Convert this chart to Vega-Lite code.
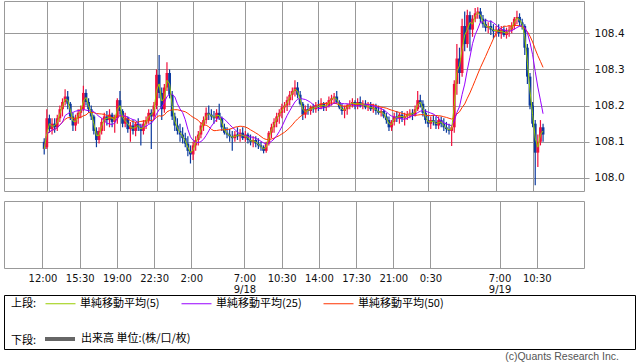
{
"$schema": "https://vega.github.io/schema/vega-lite/v6.json",
"padding": {"left": 3, "top": 0, "right": 0, "bottom": 0},
"autosize": {"type": "pad"},
"background": "white",
"datasets": {
"px": [
{"t":11.75,"o":108.1,"h":108.11,"l":108.065,"c":108.08},
{"t":12,"o":108.085,"h":108.19,"l":108.08,"c":108.165},
{"t":12.25,"o":108.165,"h":108.175,"l":108.125,"c":108.135},
{"t":12.5,"o":108.135,"h":108.165,"l":108.12,"c":108.15},
{"t":12.75,"o":108.15,"h":108.165,"l":108.125,"c":108.14},
{"t":13,"o":108.14,"h":108.175,"l":108.13,"c":108.165},
{"t":13.25,"o":108.165,"h":108.2,"l":108.155,"c":108.19},
{"t":13.5,"o":108.19,"h":108.22,"l":108.17,"c":108.21},
{"t":13.75,"o":108.21,"h":108.245,"l":108.2,"c":108.225},
{"t":14,"o":108.225,"h":108.24,"l":108.19,"c":108.205},
{"t":14.25,"o":108.205,"h":108.21,"l":108.16,"c":108.17},
{"t":14.5,"o":108.17,"h":108.18,"l":108.13,"c":108.145},
{"t":14.75,"o":108.145,"h":108.175,"l":108.13,"c":108.165},
{"t":15,"o":108.165,"h":108.19,"l":108.15,"c":108.18},
{"t":15.25,"o":108.18,"h":108.2,"l":108.165,"c":108.19},
{"t":15.5,"o":108.19,"h":108.255,"l":108.185,"c":108.235},
{"t":15.75,"o":108.235,"h":108.245,"l":108.2,"c":108.21},
{"t":16,"o":108.21,"h":108.22,"l":108.18,"c":108.19},
{"t":16.25,"o":108.19,"h":108.2,"l":108.16,"c":108.17},
{"t":16.5,"o":108.17,"h":108.175,"l":108.12,"c":108.13},
{"t":16.75,"o":108.13,"h":108.14,"l":108.085,"c":108.105},
{"t":17,"o":108.105,"h":108.14,"l":108.095,"c":108.13},
{"t":17.25,"o":108.13,"h":108.165,"l":108.12,"c":108.155},
{"t":17.5,"o":108.155,"h":108.18,"l":108.13,"c":108.17},
{"t":17.75,"o":108.17,"h":108.185,"l":108.145,"c":108.16},
{"t":18,"o":108.16,"h":108.19,"l":108.14,"c":108.175},
{"t":18.25,"o":108.175,"h":108.18,"l":108.14,"c":108.155},
{"t":18.5,"o":108.155,"h":108.175,"l":108.125,"c":108.165},
{"t":18.75,"o":108.165,"h":108.22,"l":108.15,"c":108.215},
{"t":19,"o":108.215,"h":108.24,"l":108.175,"c":108.185},
{"t":19.25,"o":108.185,"h":108.19,"l":108.14,"c":108.15},
{"t":19.5,"o":108.15,"h":108.18,"l":108.14,"c":108.165},
{"t":19.75,"o":108.165,"h":108.17,"l":108.125,"c":108.135},
{"t":20,"o":108.135,"h":108.155,"l":108.1,"c":108.145},
{"t":20.25,"o":108.145,"h":108.16,"l":108.12,"c":108.13},
{"t":20.5,"o":108.13,"h":108.155,"l":108.115,"c":108.15},
{"t":20.75,"o":108.15,"h":108.165,"l":108.13,"c":108.14},
{"t":21,"o":108.14,"h":108.15,"l":108.09,"c":108.13},
{"t":21.25,"o":108.13,"h":108.16,"l":108.12,"c":108.15},
{"t":21.5,"o":108.15,"h":108.17,"l":108.135,"c":108.16},
{"t":21.75,"o":108.16,"h":108.19,"l":108.15,"c":108.18},
{"t":22,"o":108.18,"h":108.19,"l":108.08,"c":108.17},
{"t":22.25,"o":108.17,"h":108.21,"l":108.16,"c":108.2},
{"t":22.5,"o":108.2,"h":108.3,"l":108.19,"c":108.285},
{"t":22.75,"o":108.285,"h":108.34,"l":108.22,"c":108.235},
{"t":23,"o":108.235,"h":108.25,"l":108.16,"c":108.19},
{"t":23.25,"o":108.19,"h":108.26,"l":108.18,"c":108.25},
{"t":23.5,"o":108.25,"h":108.32,"l":108.24,"c":108.29},
{"t":23.75,"o":108.29,"h":108.3,"l":108.22,"c":108.23},
{"t":24,"o":108.23,"h":108.24,"l":108.16,"c":108.17},
{"t":24.25,"o":108.17,"h":108.18,"l":108.13,"c":108.145},
{"t":24.5,"o":108.145,"h":108.165,"l":108.12,"c":108.13},
{"t":24.75,"o":108.13,"h":108.15,"l":108.1,"c":108.12},
{"t":25,"o":108.12,"h":108.14,"l":108.095,"c":108.11},
{"t":25.25,"o":108.11,"h":108.125,"l":108.085,"c":108.095},
{"t":25.5,"o":108.095,"h":108.115,"l":108.06,"c":108.075},
{"t":25.75,"o":108.075,"h":108.09,"l":108.04,"c":108.065},
{"t":26,"o":108.065,"h":108.1,"l":108.05,"c":108.09},
{"t":26.25,"o":108.09,"h":108.115,"l":108.075,"c":108.105},
{"t":26.5,"o":108.105,"h":108.13,"l":108.09,"c":108.12},
{"t":26.75,"o":108.12,"h":108.155,"l":108.11,"c":108.145},
{"t":27,"o":108.145,"h":108.17,"l":108.13,"c":108.16},
{"t":27.25,"o":108.16,"h":108.195,"l":108.15,"c":108.18},
{"t":27.5,"o":108.18,"h":108.2,"l":108.16,"c":108.175},
{"t":27.75,"o":108.175,"h":108.19,"l":108.16,"c":108.17},
{"t":28,"o":108.17,"h":108.185,"l":108.15,"c":108.165},
{"t":28.25,"o":108.165,"h":108.19,"l":108.155,"c":108.18},
{"t":28.5,"o":108.18,"h":108.205,"l":108.16,"c":108.165},
{"t":28.75,"o":108.165,"h":108.17,"l":108.13,"c":108.14},
{"t":29,"o":108.14,"h":108.15,"l":108.12,"c":108.125},
{"t":29.25,"o":108.125,"h":108.14,"l":108.11,"c":108.12},
{"t":29.5,"o":108.12,"h":108.135,"l":108.1,"c":108.115},
{"t":29.75,"o":108.115,"h":108.13,"l":108.075,"c":108.11},
{"t":30,"o":108.11,"h":108.13,"l":108.1,"c":108.12},
{"t":30.25,"o":108.12,"h":108.14,"l":108.105,"c":108.115},
{"t":30.5,"o":108.115,"h":108.135,"l":108.1,"c":108.125},
{"t":30.75,"o":108.125,"h":108.14,"l":108.105,"c":108.11},
{"t":31,"o":108.11,"h":108.13,"l":108.1,"c":108.12},
{"t":31.25,"o":108.12,"h":108.125,"l":108.095,"c":108.105},
{"t":31.5,"o":108.105,"h":108.12,"l":108.09,"c":108.1},
{"t":31.75,"o":108.1,"h":108.115,"l":108.085,"c":108.105},
{"t":32,"o":108.105,"h":108.115,"l":108.085,"c":108.095},
{"t":32.25,"o":108.095,"h":108.11,"l":108.08,"c":108.09},
{"t":32.5,"o":108.09,"h":108.1,"l":108.075,"c":108.085},
{"t":32.75,"o":108.085,"h":108.09,"l":108.068,"c":108.075},
{"t":33,"o":108.075,"h":108.1,"l":108.07,"c":108.095},
{"t":33.25,"o":108.095,"h":108.13,"l":108.09,"c":108.125},
{"t":33.5,"o":108.125,"h":108.15,"l":108.11,"c":108.14},
{"t":33.75,"o":108.14,"h":108.165,"l":108.125,"c":108.155},
{"t":34,"o":108.155,"h":108.18,"l":108.14,"c":108.17},
{"t":34.25,"o":108.17,"h":108.19,"l":108.15,"c":108.18},
{"t":34.5,"o":108.18,"h":108.205,"l":108.165,"c":108.195},
{"t":34.75,"o":108.195,"h":108.21,"l":108.18,"c":108.2},
{"t":35,"o":108.2,"h":108.225,"l":108.185,"c":108.215},
{"t":35.25,"o":108.215,"h":108.24,"l":108.2,"c":108.23},
{"t":35.5,"o":108.23,"h":108.25,"l":108.215,"c":108.24},
{"t":35.75,"o":108.24,"h":108.27,"l":108.225,"c":108.25},
{"t":36,"o":108.25,"h":108.265,"l":108.22,"c":108.23},
{"t":36.25,"o":108.23,"h":108.24,"l":108.2,"c":108.205},
{"t":36.5,"o":108.205,"h":108.21,"l":108.16,"c":108.175},
{"t":36.75,"o":108.175,"h":108.2,"l":108.165,"c":108.19},
{"t":37,"o":108.19,"h":108.205,"l":108.175,"c":108.185},
{"t":37.25,"o":108.185,"h":108.2,"l":108.175,"c":108.195},
{"t":37.5,"o":108.195,"h":108.205,"l":108.18,"c":108.19},
{"t":37.75,"o":108.19,"h":108.21,"l":108.18,"c":108.2},
{"t":38,"o":108.2,"h":108.215,"l":108.185,"c":108.195},
{"t":38.25,"o":108.195,"h":108.22,"l":108.19,"c":108.205},
{"t":38.5,"o":108.205,"h":108.21,"l":108.185,"c":108.195},
{"t":38.75,"o":108.195,"h":108.21,"l":108.185,"c":108.2},
{"t":39,"o":108.2,"h":108.225,"l":108.195,"c":108.215},
{"t":39.25,"o":108.215,"h":108.23,"l":108.2,"c":108.22},
{"t":39.5,"o":108.22,"h":108.235,"l":108.205,"c":108.225},
{"t":39.75,"o":108.225,"h":108.24,"l":108.205,"c":108.21},
{"t":40,"o":108.21,"h":108.215,"l":108.19,"c":108.195},
{"t":40.25,"o":108.195,"h":108.205,"l":108.175,"c":108.185},
{"t":40.5,"o":108.185,"h":108.2,"l":108.165,"c":108.19},
{"t":40.75,"o":108.19,"h":108.205,"l":108.175,"c":108.2},
{"t":41,"o":108.2,"h":108.215,"l":108.19,"c":108.205},
{"t":41.25,"o":108.205,"h":108.22,"l":108.195,"c":108.21},
{"t":41.5,"o":108.21,"h":108.215,"l":108.19,"c":108.2},
{"t":41.75,"o":108.2,"h":108.22,"l":108.19,"c":108.21},
{"t":42,"o":108.21,"h":108.225,"l":108.195,"c":108.2},
{"t":42.25,"o":108.2,"h":108.215,"l":108.19,"c":108.205},
{"t":42.5,"o":108.205,"h":108.215,"l":108.19,"c":108.195},
{"t":42.75,"o":108.195,"h":108.21,"l":108.185,"c":108.2},
{"t":43,"o":108.2,"h":108.21,"l":108.185,"c":108.19},
{"t":43.25,"o":108.19,"h":108.205,"l":108.18,"c":108.195},
{"t":43.5,"o":108.195,"h":108.205,"l":108.175,"c":108.185},
{"t":43.75,"o":108.185,"h":108.2,"l":108.175,"c":108.18},
{"t":44,"o":108.18,"h":108.195,"l":108.17,"c":108.185},
{"t":44.25,"o":108.185,"h":108.19,"l":108.165,"c":108.17},
{"t":44.5,"o":108.17,"h":108.18,"l":108.15,"c":108.16},
{"t":44.75,"o":108.16,"h":108.17,"l":108.13,"c":108.14},
{"t":45,"o":108.14,"h":108.16,"l":108.13,"c":108.155},
{"t":45.25,"o":108.155,"h":108.18,"l":108.145,"c":108.17},
{"t":45.5,"o":108.17,"h":108.185,"l":108.155,"c":108.165},
{"t":45.75,"o":108.165,"h":108.18,"l":108.15,"c":108.175},
{"t":46,"o":108.175,"h":108.185,"l":108.155,"c":108.165},
{"t":46.25,"o":108.165,"h":108.18,"l":108.145,"c":108.17},
{"t":46.5,"o":108.17,"h":108.185,"l":108.16,"c":108.175},
{"t":46.75,"o":108.175,"h":108.19,"l":108.165,"c":108.18},
{"t":47,"o":108.18,"h":108.19,"l":108.16,"c":108.175},
{"t":47.25,"o":108.175,"h":108.2,"l":108.17,"c":108.19},
{"t":47.5,"o":108.19,"h":108.24,"l":108.185,"c":108.215},
{"t":47.75,"o":108.215,"h":108.23,"l":108.195,"c":108.205},
{"t":48,"o":108.205,"h":108.215,"l":108.17,"c":108.18},
{"t":48.25,"o":108.18,"h":108.19,"l":108.15,"c":108.16},
{"t":48.5,"o":108.16,"h":108.175,"l":108.14,"c":108.15},
{"t":48.75,"o":108.15,"h":108.17,"l":108.135,"c":108.16},
{"t":49,"o":108.16,"h":108.175,"l":108.145,"c":108.155},
{"t":49.25,"o":108.155,"h":108.17,"l":108.135,"c":108.145},
{"t":49.5,"o":108.145,"h":108.17,"l":108.135,"c":108.16},
{"t":49.75,"o":108.16,"h":108.17,"l":108.14,"c":108.15},
{"t":50,"o":108.15,"h":108.165,"l":108.13,"c":108.14},
{"t":50.25,"o":108.14,"h":108.155,"l":108.125,"c":108.135},
{"t":50.5,"o":108.135,"h":108.15,"l":108.12,"c":108.13},
{"t":50.75,"o":108.13,"h":108.145,"l":108.088,"c":108.14},
{"t":51,"o":108.14,"h":108.27,"l":108.125,"c":108.26},
{"t":51.25,"o":108.26,"h":108.37,"l":108.23,"c":108.33},
{"t":51.5,"o":108.33,"h":108.36,"l":108.26,"c":108.29},
{"t":51.75,"o":108.29,"h":108.44,"l":108.28,"c":108.42},
{"t":52,"o":108.42,"h":108.46,"l":108.35,"c":108.37},
{"t":52.25,"o":108.37,"h":108.465,"l":108.36,"c":108.45},
{"t":52.5,"o":108.45,"h":108.46,"l":108.35,"c":108.41},
{"t":52.75,"o":108.41,"h":108.45,"l":108.39,"c":108.44},
{"t":53,"o":108.44,"h":108.47,"l":108.43,"c":108.455},
{"t":53.25,"o":108.455,"h":108.472,"l":108.44,"c":108.46},
{"t":53.5,"o":108.46,"h":108.47,"l":108.43,"c":108.44},
{"t":53.75,"o":108.44,"h":108.45,"l":108.415,"c":108.425},
{"t":54,"o":108.425,"h":108.44,"l":108.405,"c":108.415},
{"t":54.25,"o":108.415,"h":108.43,"l":108.4,"c":108.42},
{"t":54.5,"o":108.42,"h":108.435,"l":108.395,"c":108.41},
{"t":54.75,"o":108.41,"h":108.425,"l":108.385,"c":108.405},
{"t":55,"o":108.405,"h":108.42,"l":108.39,"c":108.41},
{"t":55.25,"o":108.41,"h":108.425,"l":108.39,"c":108.4},
{"t":55.5,"o":108.4,"h":108.42,"l":108.385,"c":108.41},
{"t":55.75,"o":108.41,"h":108.42,"l":108.39,"c":108.395},
{"t":56,"o":108.395,"h":108.415,"l":108.385,"c":108.405},
{"t":56.25,"o":108.405,"h":108.42,"l":108.39,"c":108.41},
{"t":56.5,"o":108.41,"h":108.43,"l":108.4,"c":108.42},
{"t":56.75,"o":108.42,"h":108.445,"l":108.41,"c":108.44},
{"t":57,"o":108.44,"h":108.462,"l":108.425,"c":108.445},
{"t":57.25,"o":108.445,"h":108.455,"l":108.42,"c":108.43},
{"t":57.5,"o":108.43,"h":108.44,"l":108.41,"c":108.42},
{"t":57.75,"o":108.42,"h":108.425,"l":108.34,"c":108.36},
{"t":58,"o":108.36,"h":108.37,"l":108.26,"c":108.28},
{"t":58.25,"o":108.28,"h":108.29,"l":108.19,"c":108.2},
{"t":58.5,"o":108.2,"h":108.21,"l":108.14,"c":108.15},
{"t":58.75,"o":108.15,"h":108.16,"l":107.98,"c":108.07},
{"t":59,"o":108.07,"h":108.12,"l":108.03,"c":108.1},
{"t":59.25,"o":108.1,"h":108.16,"l":108.09,"c":108.14},
{"t":59.5,"o":108.14,"h":108.15,"l":108.1,"c":108.12}
]
},
"spacing": -1,
"vconcat": [
{
"spacing": 8,
"vconcat": [
{
"width": 580,
"height": 190,
"data": {"name": "px"},
"encoding": {
"x": {"field": "t", "type": "quantitative",
"scale": {"domain": [8.38, 62.94], "nice": false, "zero": false},
"axis": {"values": [12,15.5,19,22.5,26,31,34.5,38,41.5,45,48.5,55,58.5], "grid": true, "labels": false, "ticks": false, "domain": false, "title": null}}
},
"layer": [
{
"mark": {"type": "rule", "strokeWidth": 1.2},
"encoding": {
"y": {"field": "l", "type": "quantitative", "scale": {"domain": [107.964, 108.489], "nice": false, "zero": false},
"axis": {"orient": "right", "values": [108.0,108.1,108.2,108.3,108.4], "format": ".1f", "grid": true, "ticks": true, "tickSize": 5, "tickColor": "#999999", "domain": false, "labelPadding": 5, "labelFontSize": 10.5, "title": null}},
"y2": {"field": "h"},
"color": {"condition": {"test": "datum.c >= datum.o", "value": "#f0103c"}, "value": "#0b3a9e"}
}
},
{
"mark": {"type": "bar", "size": 2.8},
"encoding": {
"y": {"field": "o", "type": "quantitative", "scale": {"domain": [107.964, 108.489], "nice": false, "zero": false},
"axis": {"orient": "right", "values": [108.0,108.1,108.2,108.3,108.4], "format": ".1f", "grid": true, "ticks": true, "tickSize": 5, "tickColor": "#999999", "domain": false, "labelPadding": 5, "labelFontSize": 10.5, "title": null}},
"y2": {"field": "c"},
"color": {"condition": {"test": "datum.c >= datum.o", "value": "#f0103c"}, "value": "#0b3a9e"}
}
},
{
"transform": [
{"window": [{"op": "mean", "field": "c", "as": "ma5"}], "frame": [-1, 0], "sort": [{"field": "t", "order": "ascending"}]},
{"window": [{"op": "mean", "field": "c", "as": "ma25"}], "frame": [-7, 0], "sort": [{"field": "t", "order": "ascending"}]},
{"window": [{"op": "mean", "field": "c", "as": "ma50"}], "frame": [-16, 0], "sort": [{"field": "t", "order": "ascending"}]},
{"fold": ["ma50", "ma25", "ma5"], "as": ["series", "value"]}
],
"mark": {"type": "line", "strokeWidth": 1},
"encoding": {
"y": {"field": "value", "type": "quantitative", "scale": {"domain": [107.964, 108.489], "nice": false, "zero": false},
"axis": {"orient": "right", "values": [108.0,108.1,108.2,108.3,108.4], "format": ".1f", "grid": true, "ticks": true, "tickSize": 5, "tickColor": "#999999", "domain": false, "labelPadding": 5, "labelFontSize": 10.5, "title": null}},
"stroke": {"field": "series", "type": "nominal",
"scale": {"domain": ["ma5", "ma25", "ma50"], "range": ["#99cc00", "#9900ff", "#ff3300"]},
"legend": {"title": "上段:", "orient": "none", "legendX": 7, "legendY": 287, "direction": "horizontal",
"titleOrient": "left", "titleAnchor": "middle", "titleBaseline": "top", "titleFont": "Noto Sans CJK JP", "titleFontSize": 11, "titleFontWeight": "normal", "titleColor": "#000000", "titlePadding": 8,
"symbolType": "stroke", "symbolSize": 900, "symbolStrokeWidth": 1,
"labelFont": "Noto Sans CJK JP", "labelFontSize": 11, "labelColor": "#000000", "labelOffset": 4, "labelLimit": 300,
"columnPadding": 19, "padding": 0,
"labelExpr": "datum.label == 'ma5' ? '単純移動平均(5)' : datum.label == 'ma25' ? '単純移動平均(25)' : '単純移動平均(50)'"}},
"strokeWidth": {"condition": {"test": "datum.series === 'ma5'", "value": 1.8}, "value": 1}
}
}
]
},
{
"width": 580,
"height": 67,
"data": {"values": []},
"mark": {"type": "line"},
"encoding": {
"x": {"field": "t", "type": "quantitative",
"scale": {"domain": [8.38, 62.94], "nice": false, "zero": false},
"axis": {"values": [12,15.5,19,22.5,26,31,34.5,38,41.5,45,48.5,55,58.5], "grid": true, "ticks": false, "domain": false, "title": null,
"labelPadding": 5, "labelFontSize": 10, "labelLineHeight": 11, "labelFlush": false, "labelOverlap": false,
"labelExpr": "datum.value == 31 ? ['7:00', '9/18'] : datum.value == 55 ? ['7:00', '9/19'] : floor(datum.value % 24) + ':' + (datum.value % 1 > 0 ? '30' : '00')"}},
"y": {"field": "v", "type": "quantitative", "scale": {"domain": [0, 1]}, "axis": null},
"color": {"field": "k", "type": "nominal",
"scale": {"domain": ["出来高 単位:(株/口/枚)"], "range": ["#666666"]},
"legend": {"title": "下段:", "orient": "none", "legendX": 7, "legendY": 321, "direction": "horizontal",
"titleOrient": "left", "titleAnchor": "middle", "titleBaseline": "top", "titleFont": "Noto Sans CJK JP", "titleFontSize": 11, "titleFontWeight": "normal", "titleColor": "#000000", "titlePadding": 6,
"symbolType": "stroke", "symbolSize": 900, "symbolStrokeWidth": 4, "symbolStrokeColor": "#666666",
"labelFont": "Noto Sans CJK JP", "labelFontSize": 11, "labelColor": "#000000", "labelOffset": 4, "labelLimit": 300, "padding": 0}}
}
}
]
},
{
"width": 631,
"height": 54,
"data": {"values": []},
"mark": "point",
"view": {"stroke": "#000000", "strokeWidth": 1},
"title": {"text": "(c)Quants Research Inc.", "orient": "bottom", "anchor": "end", "font": "Liberation Sans", "fontSize": 10.5, "fontWeight": "normal", "color": "#555555", "offset": 3, "dx": -16}
}
],
"config": {
"view": {"stroke": "#999999", "strokeWidth": 1},
"axis": {"gridColor": "#999999", "gridWidth": 1, "gridOpacity": 1, "labelFont": "DejaVu Sans", "labelColor": "#111111"}
}
}
